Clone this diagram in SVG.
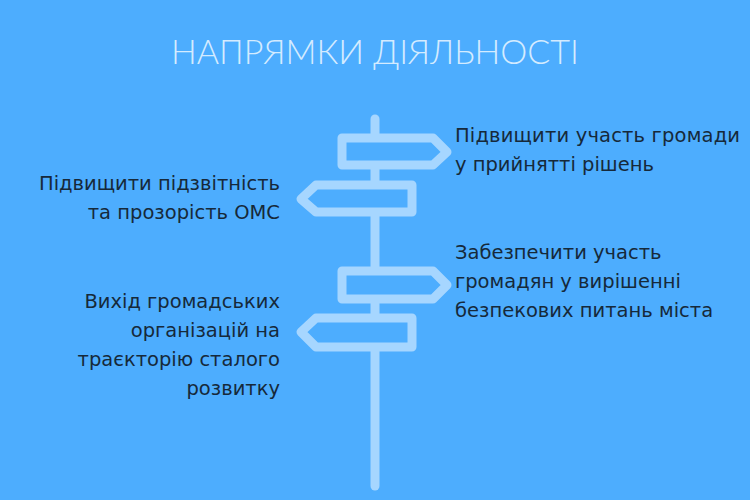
<svg xmlns="http://www.w3.org/2000/svg" width="750" height="500" viewBox="0 0 750 500">
<style>
.s{fill:none;stroke:#a6d6ff;stroke-width:9;stroke-linejoin:round;stroke-linecap:round}
.t{font-family:"DejaVu Sans","Liberation Sans",sans-serif;font-size:19.5px;fill:#16293a}
.r{text-anchor:end}
</style>
<rect width="750" height="500" fill="#4dadfe"/>
<text x="375" y="64" text-anchor="middle" font-family="Lato,'DejaVu Sans',sans-serif" font-weight="300" font-size="33" fill="#d4ebff" textLength="408" lengthAdjust="spacingAndGlyphs">НАПРЯМКИ ДІЯЛЬНОСТІ</text>
<g id="signpost">
<line class="s" x1="375" y1="119" x2="375" y2="486"/>
<path class="s" d="M342,138 H433 L447,152 L433,165 H342 Z" fill="#4dadfe" style="fill:#4dadfe"/>
<path class="s" d="M412,185 H316 L301,199 L316,212 H412 Z" style="fill:#4dadfe"/>
<path class="s" d="M342,271 H433 L447,285 L433,299 H342 Z" style="fill:#4dadfe"/>
<path class="s" d="M412,318 H316 L301,332 L316,347 H412 Z" style="fill:#4dadfe"/>
</g>
<g id="n1"><text class="t" x="455" y="142" textLength="285">Підвищити участь громади</text><text class="t" x="455" y="171">у прийнятті рішень</text></g>
<g id="n2"><text class="t r" x="280" y="190">Підвищити підзвітність</text><text class="t r" x="280" y="219">та прозорість ОМС</text></g>
<g id="n3"><text class="t" x="455" y="259">Забезпечити участь</text><text class="t" x="455" y="288">громадян у вирішенні</text><text class="t" x="455" y="317">безпекових питань міста</text></g>
<g id="n4"><text class="t r" x="280" y="308">Вихід громадських</text><text class="t r" x="280" y="337">організацій на</text><text class="t r" x="280" y="366">траєкторію сталого</text><text class="t r" x="280" y="395">розвитку</text></g>
</svg>
